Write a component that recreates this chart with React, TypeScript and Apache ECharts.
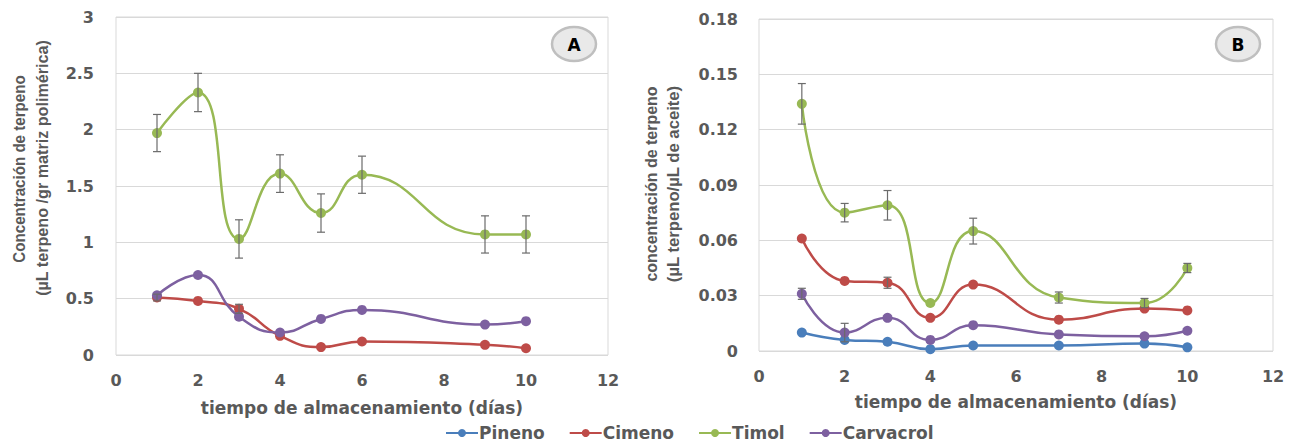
import React, { useEffect, useRef } from "react";
import * as echarts from "echarts";

// ---- Data ----
const daysA = [1, 2, 3, 4, 5, 6, 9, 10];
const timolA = [1.97, 2.33, 1.03, 1.61, 1.26, 1.6, 1.07, 1.07];
const timolAErr = [0.165, 0.17, 0.17, 0.167, 0.17, 0.165, 0.165, 0.165];
const cimenoA = [0.51, 0.48, 0.41, 0.17, 0.07, 0.12, 0.09, 0.06];
const cimenoAErr = [0.03, 0, 0.04, 0, 0, 0, 0, 0];
const carvacrolA = [0.53, 0.71, 0.34, 0.2, 0.32, 0.4, 0.27, 0.3];

const daysB = [1, 2, 3, 4, 5, 7, 9, 10];
const timolB = [0.134, 0.075, 0.079, 0.026, 0.065, 0.029, 0.026, 0.045];
const timolBErr = [0.011, 0.005, 0.008, 0, 0.007, 0.003, 0.0025, 0.0025];
const cimenoB = [0.061, 0.038, 0.037, 0.018, 0.036, 0.017, 0.023, 0.022];
const cimenoBErr = [0, 0, 0.003, 0, 0, 0, 0, 0];
const carvacrolB = [0.031, 0.01, 0.018, 0.006, 0.014, 0.009, 0.008, 0.011];
const carvacrolBErr = [0.003, 0.005, 0, 0, 0, 0, 0, 0];
const pinenoB = [0.01, 0.006, 0.005, 0.001, 0.003, 0.003, 0.004, 0.002];

const legendNames = ["Pineno", "Cimeno", "Timol", "Carvacrol"];
const colors: Record<string, string> = {
  Pineno: "#4a7ebb",
  Cimeno: "#be4b48",
  Timol: "#98b954",
  Carvacrol: "#7d60a0",
};

const yTitleA = ["Concentración de terpeno", "(µL terpeno /gr matriz polimérica)"];
const yTitleB = ["concentración de terpeno", "(µL terpeno/µL de aceite)"];
const xTitle = "tiempo de almacenamiento (días)";

const TEXT = "#595959";
const GRID = "#d9d9d9";
const TICK_FONT = "DejaVu Sans";

function pairs(xs: number[], ys: number[]) {
  return xs.map((x, i) => [x, ys[i]]);
}
function errData(xs: number[], ys: number[], es: number[]) {
  const out: number[][] = [];
  xs.forEach((x, i) => {
    if (es[i] > 0) out.push([x, ys[i] - es[i], ys[i] + es[i]]);
  });
  return out;
}

const renderErr = (params: any, api: any) => {
  const x = api.value(0);
  const lo = api.coord([x, api.value(1)]);
  const hi = api.coord([x, api.value(2)]);
  const w = 4;
  const style = { stroke: "#6b6b6b", lineWidth: 1.2 };
  return {
    type: "group",
    children: [
      { type: "line", shape: { x1: lo[0], y1: lo[1], x2: hi[0], y2: hi[1] }, style },
      { type: "line", shape: { x1: lo[0] - w, y1: lo[1], x2: lo[0] + w, y2: lo[1] }, style },
      { type: "line", shape: { x1: hi[0] - w, y1: hi[1], x2: hi[0] + w, y2: hi[1] }, style },
    ],
  };
};

function lineSeries(name: string, xs: number[], ys: number[], idx: number) {
  return {
    type: "line",
    name,
    xAxisIndex: idx,
    yAxisIndex: idx,
    data: pairs(xs, ys),
    smooth: 0.5,
    symbol: "circle",
    symbolSize: 10,
    itemStyle: { color: colors[name] },
    lineStyle: { color: colors[name], width: 2.5 },
    z: 2,
  };
}
function errSeries(xs: number[], ys: number[], es: number[], idx: number) {
  return {
    type: "custom",
    name: "err",
    xAxisIndex: idx,
    yAxisIndex: idx,
    renderItem: renderErr,
    data: errData(xs, ys, es),
    encode: { x: 0, y: [1, 2] },
    z: 5,
    silent: true,
  };
}

function xAxisCfg(idx: number) {
  return {
    type: "value",
    gridIndex: idx,
    min: 0,
    max: 12,
    interval: 2,
    axisLine: { show: false },
    axisTick: { show: false },
    splitLine: { show: false },
    axisLabel: {
      color: TEXT,
      fontFamily: TICK_FONT,
      fontWeight: "bold",
      fontSize: 16,
      margin: 17,
    },
    name: xTitle,
    nameLocation: "middle",
    nameGap: idx === 0 ? 44 : 42,
    nameTextStyle: {
      color: TEXT,
      fontFamily: TICK_FONT,
      fontWeight: "bold",
      fontSize: 17,
    },
  };
}

function yTitle(text: string, x: number, y: number, scale: number) {
  return {
    type: "text",
    x,
    y,
    rotation: Math.PI / 2,
    scaleX: scale,
    style: {
      text,
      fill: TEXT,
      fontFamily: "Liberation Sans",
      fontWeight: "bold",
      fontSize: 17,
      textAlign: "center",
      textVerticalAlign: "middle",
    },
  };
}

function badge(label: string, cx: number, cy: number) {
  return [
    {
      type: "ellipse",
      shape: { cx, cy, rx: 22, ry: 17 },
      style: { fill: "#e9e9e9", stroke: "#bfbfbf", lineWidth: 2.5 },
      z: 10,
    },
    {
      type: "text",
      x: cx,
      y: cy + 1,
      style: {
        text: label,
        fill: "#000",
        fontFamily: "DejaVu Sans",
        fontWeight: "bold",
        fontSize: 17,
        textAlign: "center",
        textVerticalAlign: "middle",
      },
      z: 11,
    },
  ];
}

export default function App() {
  const ref = useRef<HTMLDivElement>(null);
  useEffect(() => {
    if (!ref.current) return;
    const chart = echarts.init(ref.current, null, { renderer: "svg" });
    const option: any = {
      animation: false,
      backgroundColor: "#ffffff",
      grid: [
        { left: 116, top: 17, width: 492, height: 338, show: true, borderColor: GRID, borderWidth: 1 },
        { left: 759, top: 19, width: 514, height: 332, show: true, borderColor: GRID, borderWidth: 1 },
      ],
      xAxis: [xAxisCfg(0), xAxisCfg(1)],
      yAxis: [
        {
          type: "value",
          gridIndex: 0,
          min: 0,
          max: 3,
          interval: 0.5,
          axisLine: { show: false },
          axisTick: { show: false },
          splitLine: { lineStyle: { color: GRID, width: 1 } },
          axisLabel: {
            color: TEXT,
            fontFamily: TICK_FONT,
            fontWeight: "bold",
            fontSize: 16,
            margin: 22,
            formatter: (v: number) => String(Math.round(v * 10) / 10),
          },
        },
        {
          type: "value",
          gridIndex: 1,
          min: 0,
          max: 0.18,
          interval: 0.03,
          axisLine: { show: false },
          axisTick: { show: false },
          splitLine: { lineStyle: { color: GRID, width: 1 } },
          axisLabel: {
            color: TEXT,
            fontFamily: TICK_FONT,
            fontWeight: "bold",
            fontSize: 16,
            margin: 21,
            formatter: (v: number) => (v === 0 ? "0" : v.toFixed(2)),
          },
        },
      ],
      legend: {
        data: legendNames,
        top: 424,
        left: 445,
        padding: 0,
        itemWidth: 32,
        itemHeight: 10,
        itemGap: 24,
        textStyle: {
          color: TEXT,
          fontFamily: TICK_FONT,
          fontWeight: "bold",
          fontSize: 17,
          lineHeight: 18,
          padding: [0, 0, 0, -4],
        },
      },
      graphic: [
        yTitle(yTitleA[0], 19, 169, 0.89),
        yTitle(yTitleA[1], 42, 168, 0.95),
        yTitle(yTitleB[0], 651, 184, 0.94),
        yTitle(yTitleB[1], 673, 184, 0.98),
        ...badge("A", 574, 44),
        ...badge("B", 1238, 44),
      ],
      series: [
        lineSeries("Cimeno", daysA, cimenoA, 0),
        lineSeries("Timol", daysA, timolA, 0),
        lineSeries("Carvacrol", daysA, carvacrolA, 0),
        errSeries(daysA, timolA, timolAErr, 0),
        errSeries(daysA, cimenoA, cimenoAErr, 0),
        lineSeries("Pineno", daysB, pinenoB, 1),
        lineSeries("Cimeno", daysB, cimenoB, 1),
        lineSeries("Timol", daysB, timolB, 1),
        lineSeries("Carvacrol", daysB, carvacrolB, 1),
        errSeries(daysB, timolB, timolBErr, 1),
        errSeries(daysB, cimenoB, cimenoBErr, 1),
        errSeries(daysB, carvacrolB, carvacrolBErr, 1),
      ],
    };
    chart.setOption(option);
    return () => chart.dispose();
  }, []);
  return (
    <div
      ref={ref}
      style={{ position: "fixed", left: 0, top: 0, width: 1289, height: 442, background: "#fff" }}
    />
  );
}
